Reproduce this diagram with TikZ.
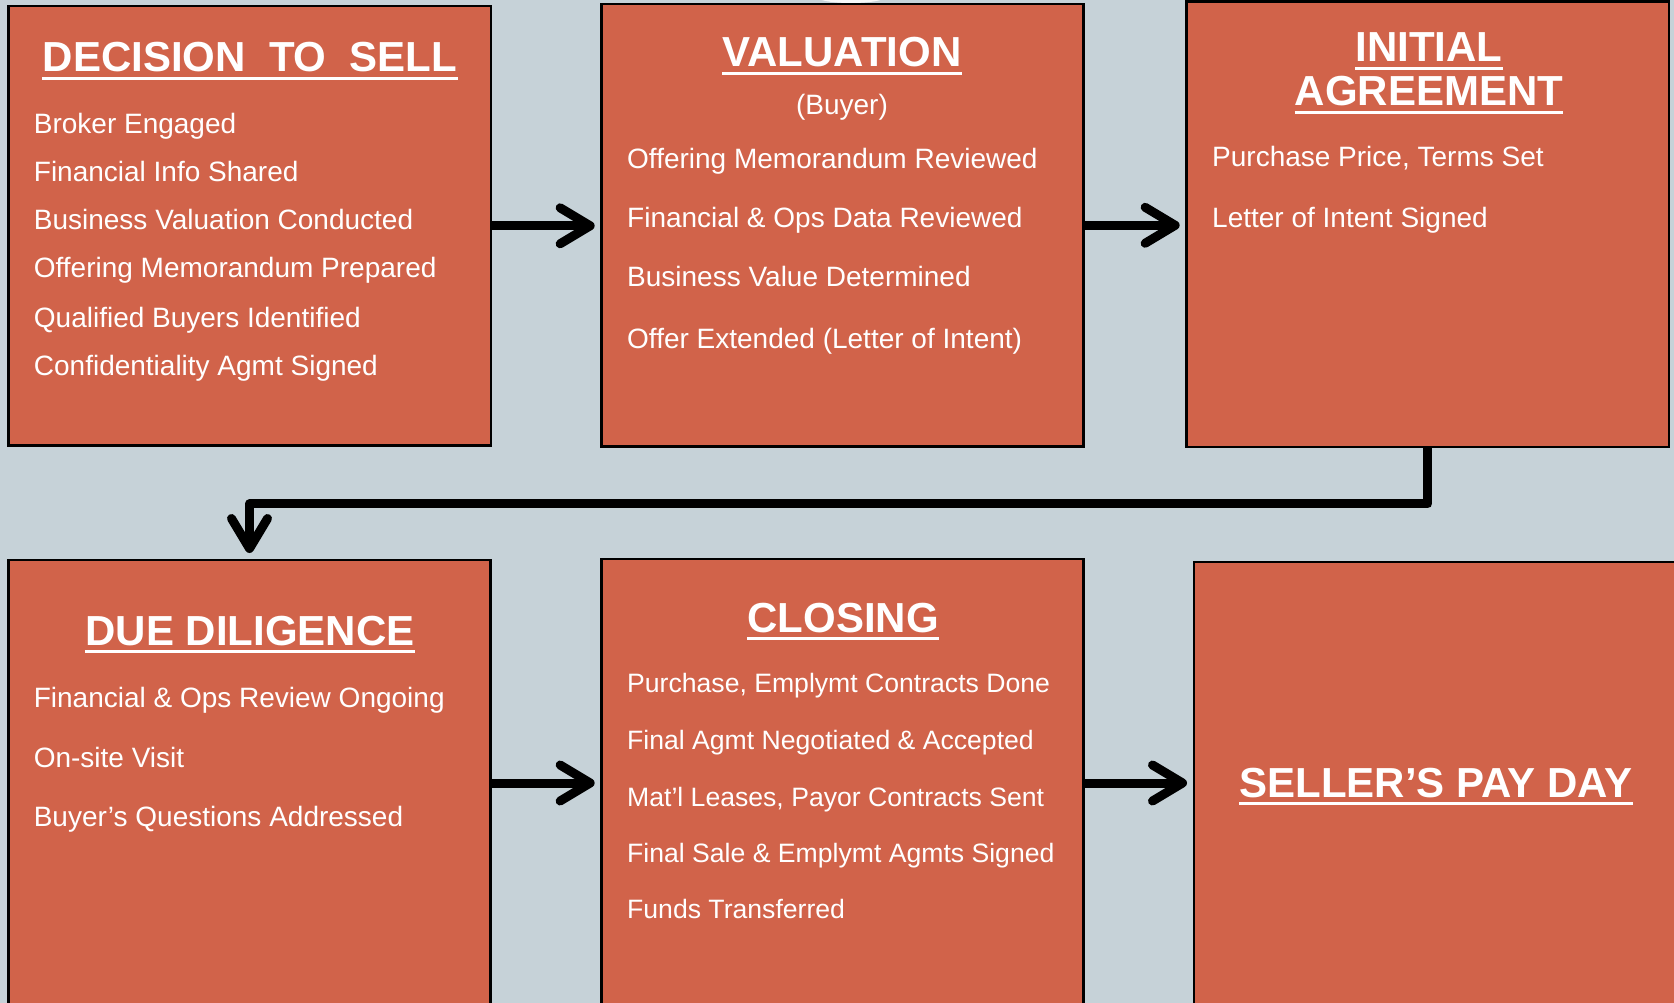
\documentclass[tikz,border=0pt]{standalone}
\usepackage{fontspec}
\setmainfont{Liberation Sans}
\usetikzlibrary{arrows.meta,calc}
\definecolor{pagebg}{HTML}{C6D2D8}
\definecolor{stagefill}{HTML}{D1634A}
\begin{document}
\begin{tikzpicture}[x=1pt,y=-1pt,
  stagebox/.style={draw=black, line width=2.5pt, fill=stagefill, inner sep=0pt, outer sep=0pt},
  stagetitle/.style={text=white, font=\fontsize{42}{44}\selectfont\bfseries, inner sep=0pt, anchor=base},
  stageitem/.style={text=white, font=\fontsize{28}{30}\selectfont, inner sep=0pt, anchor=base west},
  smallitem/.style={stageitem, font=\fontsize{26.6}{29}\selectfont},
  uline/.style={draw=white, line width=3.5pt},
  flow/.style={draw=black, line width=9pt, line join=round,
    -{Straight Barb[length=30pt, width=36pt, round]}, shorten >=7pt}]

% canvas
\fill[pagebg] (0,0) rectangle (1674,1003);
\useasboundingbox (0,0) rectangle (1674,1003);
\fill[white!85!pagebg] (851,-3) ellipse [x radius=34, y radius=6];

% stage boxes
\node[stagebox, minimum width=482.5pt, minimum height=439.7pt] (dec)  at (249.8,225.8) {};
\node[stagebox, minimum width=481.7pt, minimum height=442.7pt] (val)  at (842.5,225.3) {};
\node[stagebox, minimum width=482.3pt, minimum height=445.3pt] (init) at (1427.8,224.3) {};
\node[stagebox, minimum width=481.6pt, minimum height=446pt]   (dd)   at (249.5,783) {};
\node[stagebox, minimum width=481.7pt, minimum height=448pt]   (clo)  at (842.5,783) {};
\node[stagebox, minimum width=483pt,   minimum height=442pt]   (pay)  at (1435.5,783) {};

% titles
\node[stagetitle] (tdec)  at (250,72)   {DECISION~~TO~~SELL};
\node[stagetitle] (tval)  at (842,67)   {VALUATION};
\node[stagetitle] (tini1) at (1429,62)  {INITIAL};
\node[stagetitle] (tini2) at (1429,106) {AGREEMENT};
\node[stagetitle] (tdd)   at (250,645)  {DUE DILIGENCE};
\node[stagetitle] (tclo)  at (843,632)  {CLOSING};
\node[stagetitle] (tpay)  at (1436,797) {SELLER’S PAY DAY};
\foreach \t in {tdec,tval,tini1,tini2,tdd,tclo,tpay}
  \draw[uline] ([yshift=-6.5pt]\t.base west) -- ([yshift=-6.5pt]\t.base east);

% decision to sell
\node[stageitem] (d1) at (33.7,134) {Broker Engaged};
\node[stageitem] (d2) at (33.7,182) {Financial Info Shared};
\node[stageitem] (d3) at (33.7,230) {Business Valuation Conducted};
\node[stageitem] (d4) at (33.7,278) {Offering Memorandum Prepared};
\node[stageitem] (d5) at (33.7,327) {Qualified Buyers Identified};
\node[stageitem] (d6) at (33.7,375) {Confidentiality Agmt Signed};

% valuation
\node[stageitem, anchor=base] (v0) at (842,115) {(Buyer)};
\node[stageitem] (v1) at (627,169) {Offering Memorandum Reviewed};
\node[stageitem] (v2) at (627,228) {Financial \& Ops Data Reviewed};
\node[stageitem] (v3) at (627,287) {Business Value Determined};
\node[stageitem] (v4) at (627,348) {Offer Extended (Letter of Intent)};

% initial agreement
\node[stageitem] (i1) at (1212,167) {Purchase Price, Terms Set};
\node[stageitem] (i2) at (1212,228) {Letter of Intent Signed};

% due diligence
\node[stageitem] (g1) at (33.6,707) {Financial \& Ops Review Ongoing};
\node[stageitem] (g2) at (33.6,767) {On-site Visit};
\node[stageitem] (g3) at (33.6,826) {Buyer’s Questions Addressed};

% closing
\node[smallitem] (c1) at (627,692) {Purchase, Emplymt Contracts Done};
\node[smallitem] (c2) at (627,749) {Final Agmt Negotiated \& Accepted};
\node[smallitem] (c3) at (627,806) {Mat’l Leases, Payor Contracts Sent};
\node[smallitem] (c4) at (627,862) {Final Sale \& Emplymt Agmts Signed};
\node[smallitem] (c5) at (627,918) {Funds Transferred};

% flow connectors
\draw[flow] (dec.east) -- (dec.east -| val.west);
\draw[flow] (val.east) -- (val.east -| init.west);
\draw[flow] (init.south) -- ++(0,57) -| (dd.north);
\draw[flow] (dd.east) -- (dd.east -| clo.west);
\draw[flow] (clo.east) -- (clo.east -| pay.west);
\end{tikzpicture}
\end{document}
